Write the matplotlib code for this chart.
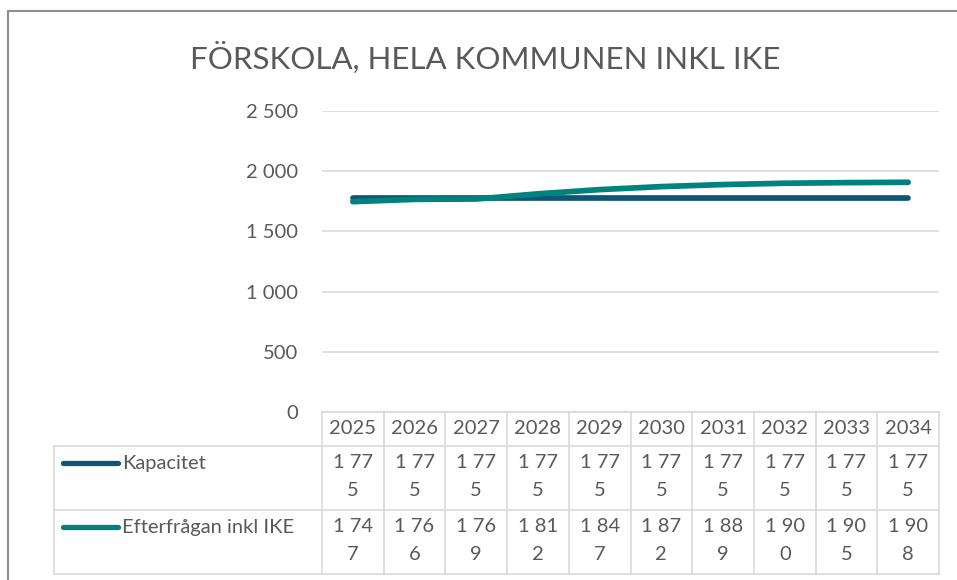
"""Förskola capacity vs demand chart with data table"""

import matplotlib
matplotlib.use("Agg")
import matplotlib.pyplot as plt
from matplotlib.ticker import FuncFormatter, MultipleLocator

years = [2025, 2026, 2027, 2028, 2029, 2030, 2031, 2032, 2033, 2034]
kapacitet = [1775, 1775, 1775, 1775, 1775, 1775, 1775, 1775, 1775, 1775]
efterfragan = [1747, 1766, 1769, 1812, 1847, 1872, 1889, 1900, 1905, 1908]
series_names = ["Kapacitet", "Efterfrågan inkl IKE"]
series_colors = ["#0E5673", "#00827F"]
title = "FÖRSKOLA, HELA KOMMUNEN INKL IKE"

TEXT = "#595959"
GRID = "#D9D9D9"
W, H = 957, 580

plt.rcParams["font.family"] = ["Lato", "DejaVu Sans"]


def fmt_thousands(v):
    return f"{int(v):,}".replace(",", " ")


def wrapped(v):
    # excel wraps the value in the narrow cell
    s = fmt_thousands(v)
    return s[:-1] + "\n" + s[-1]


fig = plt.figure(figsize=(W / 100, H / 100), dpi=100)

# overlay in pixel coords for table, title and frame
tab = fig.add_axes([0, 0, 1, 1])
tab.set_xlim(0, W)
tab.set_ylim(H, 0)
tab.axis("off")

ax = fig.add_axes([322 / W, 1 - 412 / H, (939 - 322) / W, (412 - 111) / H])
ax.patch.set_visible(False)
x = list(range(len(years)))
for vals, name, col in zip([kapacitet, efterfragan], series_names, series_colors):
    ax.plot(x, vals, color=col, lw=4.1, solid_capstyle="round", label=name)

ax.set_xlim(-0.5, len(years) - 0.5)
ax.set_ylim(0, 2500)
ax.yaxis.set_major_locator(MultipleLocator(500))
ax.yaxis.set_major_formatter(FuncFormatter(lambda v, p: fmt_thousands(v)))
ax.grid(axis="y", color=GRID, lw=1.2)
ax.set_axisbelow(True)
ax.set_xticks([])
ax.tick_params(axis="y", length=0, pad=17, labelsize=14.5, labelcolor=TEXT)
for sp in ax.spines.values():
    sp.set_visible(False)

# table geometry from the plot's x scale
edges = [ax.transData.transform((i - 0.5, 0))[0] for i in range(len(years) + 1)]
top = H - ax.transData.transform((0, 0))[1]
rows = [top, top + 34, top + 98, top + 162]
left = 54
lc = dict(color=GRID, lw=1.2)

tab.plot([edges[0], edges[-1]], [rows[0], rows[0]], **lc)
for r in rows[1:]:
    tab.plot([left, edges[-1]], [r, r], **lc)
tab.plot([left, left], [rows[1], rows[3]], **lc)
for e in edges:
    tab.plot([e, e], [rows[0], rows[3]], **lc)

for i, yr in enumerate(years):
    cx = (edges[i] + edges[i + 1]) / 2
    tab.text(cx, (rows[0] + rows[1]) / 2, str(yr), ha="center", va="center",
             fontsize=14.5, color=TEXT)
    for j, vals in enumerate([kapacitet, efterfragan]):
        tab.text(cx, rows[j + 1] + 8, wrapped(vals[i]), ha="center", va="top",
                 fontsize=14.5, color=TEXT, linespacing=1.8, multialignment="center")

for j, (name, col) in enumerate(zip(series_names, series_colors)):
    ly = rows[j + 1] + 17
    tab.plot([63, 118], [ly, ly], color=col, lw=3.8, solid_capstyle="round")
    tab.text(122, ly, name, ha="left", va="center", fontsize=14.5, color=TEXT)

tab.text(485, 58, title, ha="center", va="center", fontsize=22.5,
         fontweight="normal", color=TEXT)

# chart frame
tab.plot([8, 8], [11, H], color="#8E8E8E", lw=1.5)
tab.plot([8, W], [11, 11], color="#8E8E8E", lw=1.5)

fig.savefig("out.png", dpi=100)
